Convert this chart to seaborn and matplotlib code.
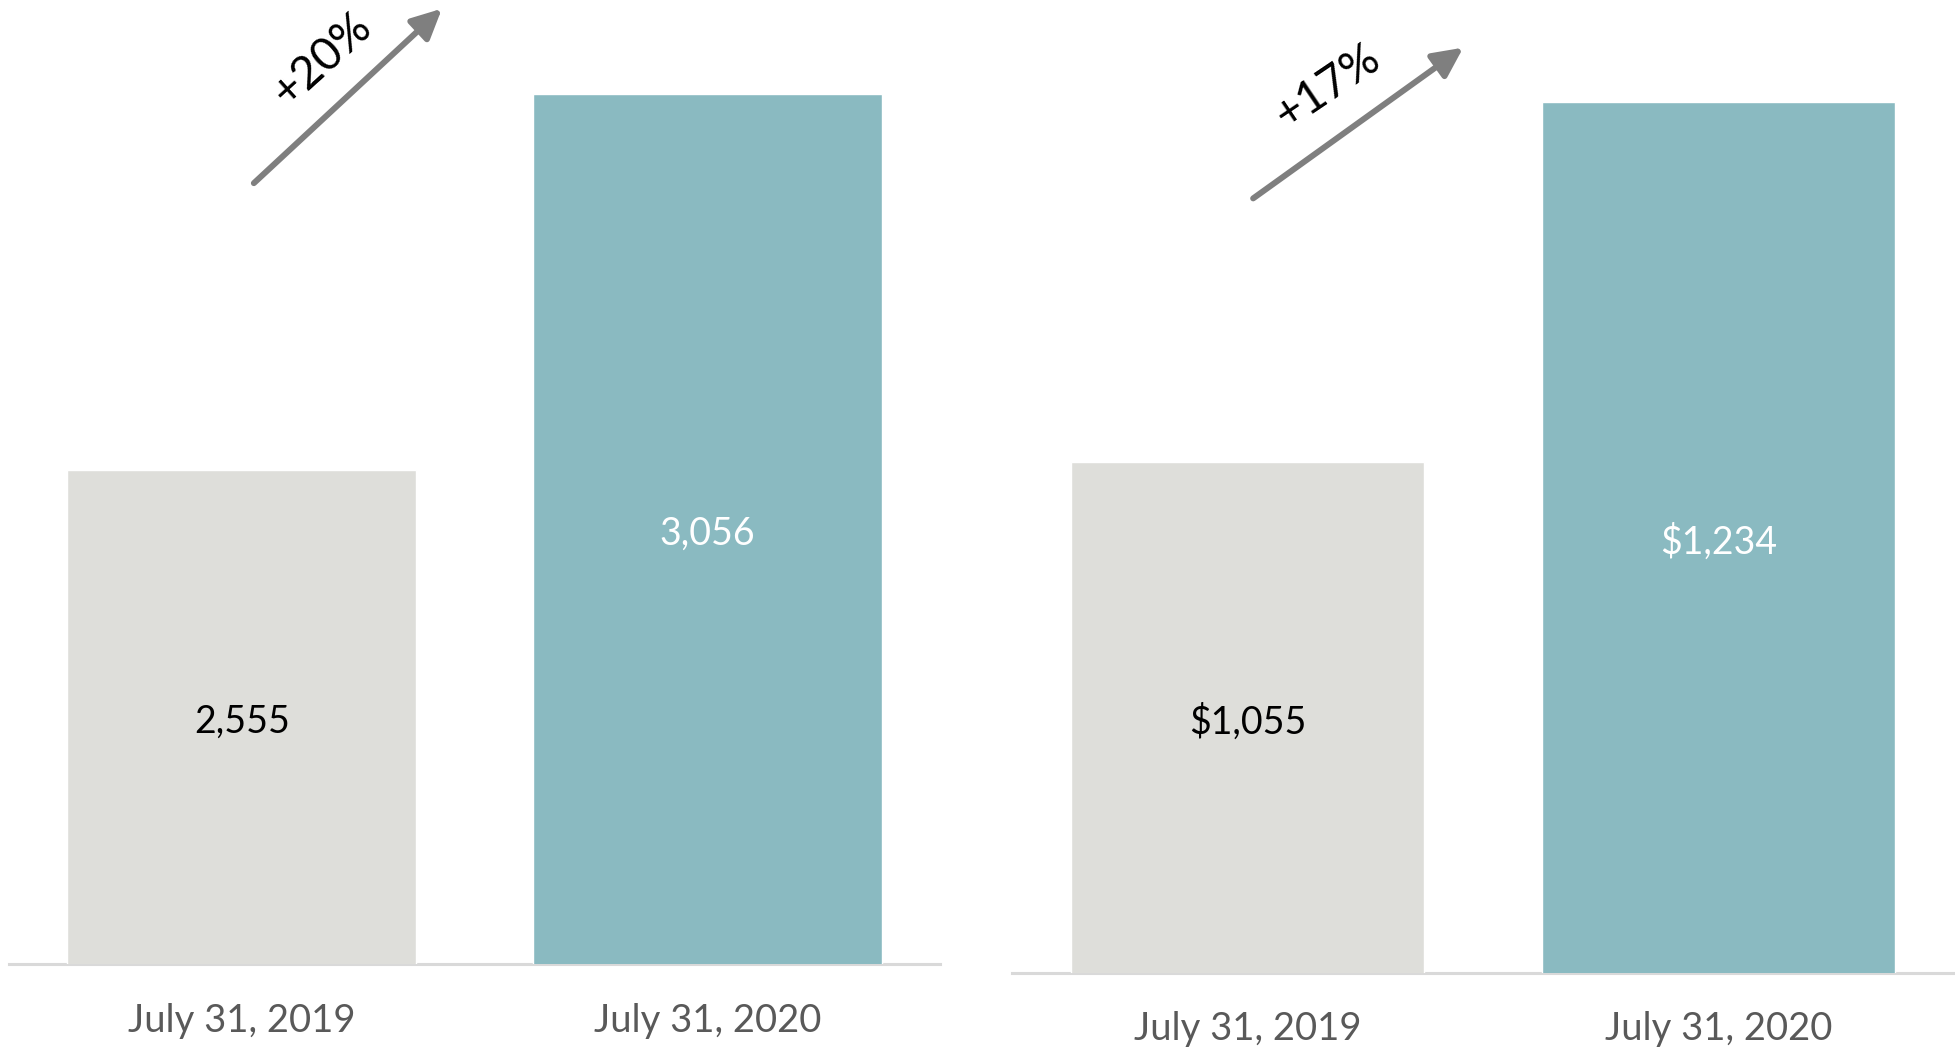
import matplotlib
matplotlib.use("Agg")
import matplotlib.pyplot as plt
import seaborn as sns
import pandas as pd

# Period labels shared by both panels
periods = ["July 31, 2019", "July 31, 2020"]

# Left panel: counts
count_values = [2555, 3056]
count_labels = ["2,555", "3,056"]
count_change = "+20%"

# Right panel: dollar amounts
amount_values = [1055, 1234]
amount_labels = ["$1,055", "$1,234"]
amount_change = "+17%"

GRAY_BAR = "#DEDEDA"
TEAL_BAR = "#8ABAC1"
AXIS_LINE = "#D9D9D9"
TICK_COLOR = "#595959"
ARROW_COLOR = "#7F7F7F"

sns.set_theme(style="white")
plt.rcParams["font.family"] = ["Lato", "DejaVu Sans"]

W, H = 1955, 1050
fig = plt.figure(figsize=(W / 100, H / 100), dpi=100)
fig.patch.set_facecolor("white")


def panel(rect, values, labels, change, ylim, arrow_tail, arrow_tip, text_xy, text_rot):
    ax = fig.add_axes(rect)
    df = pd.DataFrame({"period": periods, "value": values})
    sns.barplot(data=df, x="period", y="value", hue="period",
                palette=[GRAY_BAR, TEAL_BAR], saturation=1, width=0.75,
                legend=False, ax=ax)
    ax.set_ylim(*ylim)
    ax.set_xlim(-0.5, 1.5)
    ax.set_xlabel("")
    ax.set_ylabel("")
    ax.set_yticks([])
    for side in ("top", "left", "right"):
        ax.spines[side].set_visible(False)
    ax.spines["bottom"].set_color(AXIS_LINE)
    ax.spines["bottom"].set_linewidth(2.2)
    ax.spines["bottom"].set_zorder(0)
    ax.tick_params(axis="x", length=0, pad=28, labelsize=27.5, labelcolor=TICK_COLOR)
    ax.set_facecolor("none")

    # value labels centred in each bar
    text_colors = ["black", "white"]
    for container, lab, col in zip(ax.containers, labels, text_colors):
        anns = ax.bar_label(container, labels=[lab], label_type="center",
                            fontsize=27, color=col)
        for ann in anns:
            ann.xyann = (0, -3.5)

    # growth arrow with rotated percentage
    ax.annotate("", xy=arrow_tip, xytext=arrow_tail,
                xycoords="axes fraction", textcoords="axes fraction",
                annotation_clip=False,
                arrowprops=dict(arrowstyle="-|>,head_length=0.45,head_width=0.22",
                                mutation_scale=40, lw=4.3, color=ARROW_COLOR,
                                shrinkA=0, shrinkB=0))
    ax.text(text_xy[0], text_xy[1], change, transform=ax.transAxes,
            rotation=text_rot, rotation_mode="anchor", ha="center", va="center",
            fontsize=33, color="black")
    return ax


panel([9 / W, (H - 964) / H, 931 / W, 964 / H],
      count_values, count_labels, count_change, (1897, 3181),
      (0.263, 0.810), (0.465, 0.991), (0.336, 0.938), 42)

panel([1012 / W, (H - 972.5) / H, 942 / W, 972.5 / H],
      amount_values, amount_labels, amount_change, (801, 1285),
      (0.256, 0.796), (0.479, 0.951), (0.335, 0.911), 34)

fig.savefig("out.png", dpi=100, facecolor="white")
